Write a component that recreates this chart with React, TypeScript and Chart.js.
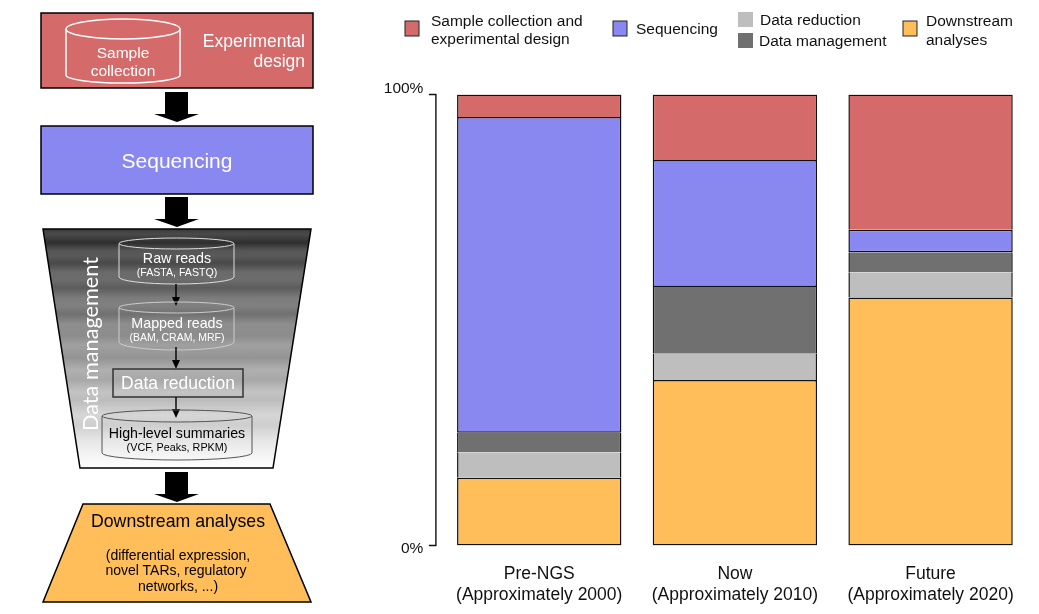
import React, { useEffect, useRef } from "react";
import { Chart, registerables } from "chart.js";

Chart.register(...registerables);

const categories = [
  ["Pre-NGS", "(Approximately 2000)"],
  ["Now", "(Approximately 2010)"],
  ["Future", "(Approximately 2020)"],
];
const downstream = [15, 36.7, 55];
const dataReduction = [5.7, 5.8, 5.6];
const dataManagement = [4.3, 14.8, 4.4];
const sequencing = [70, 28.2, 5];
const sampleCollection = [5, 14.5, 30];
const yTicks = ["0%", "100%"];

const RED = "#D46A6A";
const BLUE = "#8888F0";
const LIGHT = "#BEBEBE";
const DARK = "#707070";
const ORANGE = "#FFBE5A";
const FONT = '"Liberation Sans", Arial, sans-serif';

const axisPlugin = {
  id: "offsetAxis",
  afterDatasetsDraw(chart: any) {
    const { ctx, scales, chartArea } = chart;
    const x = chartArea.left - 5.5;
    const top = scales.y.getPixelForValue(100);
    const bottom = scales.y.getPixelForValue(0);
    ctx.save();
    ctx.strokeStyle = "#111";
    ctx.lineWidth = 1.4;
    ctx.beginPath();
    ctx.moveTo(x - 7, top);
    ctx.lineTo(x, top);
    ctx.lineTo(x, bottom);
    ctx.lineTo(x - 7, bottom);
    ctx.stroke();
    ctx.restore();
  },
};

const bandStops: [number, string][] = [
  [229, "#3a3a3a"], [234, "#4a4a4a"], [243, "#2e2e2e"], [250, "#555555"], [256, "#5a5a5a"], [263, "#484848"],
  [272, "#6a6a6a"], [280, "#6c6c6c"], [288, "#5c5c5c"], [298, "#7c7c7c"], [306, "#808080"], [314, "#707070"],
  [324, "#8e8e8e"], [336, "#8c8c8c"], [345, "#a0a0a0"], [358, "#949494"], [370, "#b0b0b0"], [380, "#a8a8a8"],
  [392, "#c4c4c4"], [400, "#bcbcbc"], [415, "#d6d6d6"], [425, "#cecece"], [440, "#e6e6e6"], [455, "#f4f4f4"],
  [468, "#ffffff"],
];

function Cylinder({ l, r, t, e, s, b, stroke, width = 1.5 }: any) {
  const cx = (l + r) / 2;
  const rx = (r - l) / 2;
  const ry = (e - t) / 2;
  const cy = t + ry;
  return (
    <g fill="none" stroke={stroke} strokeWidth={width}>
      <path d={`M${l} ${cy} L${l} ${s} A${rx} ${b - s} 0 0 0 ${r} ${s} L${r} ${cy}`} />
      <ellipse cx={cx} cy={cy} rx={rx} ry={ry} />
    </g>
  );
}

function Arrow({ y }: { y: number }) {
  return (
    <polygon
      fill="#000"
      points={`165,${y} 188,${y} 188,${y + 22} 199,${y + 22} 177,${y + 30} 154,${y + 22} 165,${y + 22}`}
    />
  );
}

function SmallArrow({ y1, y2 }: { y1: number; y2: number }) {
  return (
    <g>
      <line x1={176} y1={y1} x2={176} y2={y2 - 6} stroke="#000" strokeWidth={1.4} />
      <polygon fill="#000" points={`172,${y2 - 9} 180,${y2 - 9} 176,${y2}`} />
    </g>
  );
}

function T({ x, y, size, fill = "#fff", anchor = "middle", children, family = FONT }: any) {
  return (
    <text x={x} y={y} fontSize={size} fill={fill} textAnchor={anchor} fontFamily={family} dominantBaseline="central">
      {children}
    </text>
  );
}

function Diagram() {
  return (
    <svg width={1039} height={614} style={{ position: "absolute", left: 0, top: 0 }}>
      <defs>
        <linearGradient id="bands" x1="0" y1="0" x2="0" y2="1">
          {bandStops.map(([y, c]) => (
            <stop key={y} offset={(y - 229) / 239} stopColor={c} />
          ))}
        </linearGradient>
      </defs>

      <rect x={41} y={13} width={272} height={75} fill={RED} stroke="#000" strokeWidth={1.5} />
      <Cylinder l={66} r={180} t={19} e={39} s={75} b={83} stroke="#fff" />
      <T x={123} y={52} size={15.5}>Sample</T>
      <T x={123} y={70} size={15.5}>collection</T>
      <T x={305} y={41} size={17.5} anchor="end">Experimental</T>
      <T x={305} y={61} size={17.5} anchor="end">design</T>
      <Arrow y={92} />

      <rect x={41} y={126} width={272} height={68} fill={BLUE} stroke="#000" strokeWidth={1.5} />
      <T x={177} y={160} size={21}>Sequencing</T>
      <Arrow y={197} />

      <polygon points="43,229 311,229 273,468 80,468" fill="url(#bands)" stroke="#000" strokeWidth={1.5} />
      <Cylinder l={119} r={234} t={238} e={249} s={277} b={284} stroke="#ddd" width={1} />
      <T x={177} y={258} size={14.3}>Raw reads</T>
      <T x={177} y={272} size={10.6}>(FASTA, FASTQ)</T>
      <SmallArrow y1={284} y2={306} />
      <Cylinder l={119} r={234} t={302} e={313} s={342} b={350} stroke="#ccc" width={1} />
      <T x={177} y={323} size={14.3}>Mapped reads</T>
      <T x={177} y={337} size={10.5}>(BAM, CRAM, MRF)</T>
      <SmallArrow y1={347} y2={369} />
      <rect x={113} y={369} width={130} height={28} fill="none" stroke="#333" strokeWidth={1.5} />
      <T x={178} y={383} size={17.5}>Data reduction</T>
      <SmallArrow y1={397} y2={418} />
      <Cylinder l={102} r={252} t={410} e={422} s={453} b={460} stroke="#555" width={1} />
      <T x={177} y={433} size={14.2} fill="#000">High-level summaries</T>
      <T x={177} y={447} size={10.8} fill="#000">(VCF, Peaks, RPKM)</T>
      <text
        x={90}
        y={344}
        fontSize={21.7}
        fill="#fff"
        fontFamily="Lato, sans-serif"
        textAnchor="middle"
        dominantBaseline="central"
        transform="rotate(-90 90 344)"
      >
        Data management
      </text>
      <Arrow y={472} />

      <polygon points="83,504 270,504 311,602 43,602" fill={ORANGE} stroke="#000" strokeWidth={1.5} />
      <T x={178} y={521} size={17.7} fill="#000">Downstream analyses</T>
      <T x={178} y={555} size={14} fill="#000">(differential expression,</T>
      <T x={176} y={570} size={14} fill="#000">novel TARs, regulatory</T>
      <T x={178} y={586} size={14} fill="#000">networks, ...)</T>

      <rect x={405} y={21} width={14} height={15} fill={RED} stroke="#222" strokeWidth={1} />
      <T x={431} y={20} size={15.5} fill="#111" anchor="start">Sample collection and</T>
      <T x={431} y={38} size={15.5} fill="#111" anchor="start">experimental design</T>
      <rect x={613} y={21} width={14} height={15} fill={BLUE} stroke="#222" strokeWidth={1} />
      <T x={636} y={28} size={15.5} fill="#111" anchor="start">Sequencing</T>
      <rect x={738} y={12} width={15} height={15} fill={LIGHT} />
      <T x={760} y={19} size={15.5} fill="#111" anchor="start">Data reduction</T>
      <rect x={738} y={33} width={15} height={15} fill={DARK} />
      <T x={759} y={40} size={15.5} fill="#111" anchor="start">Data management</T>
      <rect x={903} y={21} width={14} height={15} fill={ORANGE} stroke="#222" strokeWidth={1} />
      <T x={926} y={20} size={15.5} fill="#111" anchor="start">Downstream</T>
      <T x={926} y={39} size={15.5} fill="#111" anchor="start">analyses</T>
    </svg>
  );
}

export default function App() {
  const ref = useRef<HTMLCanvasElement>(null);

  useEffect(() => {
    document.body.style.margin = "0";
    document.body.style.background = "#fff";
    const edge = (top: number, bottom: number) => ({ top, bottom, left: 1.5, right: 1.5 });
    const mk = (label: string, data: number[], color: string, top: number, bottom: number) => ({
      label,
      data,
      backgroundColor: color,
      borderColor: "#111",
      borderWidth: edge(top, bottom),
      borderSkipped: false,
      stack: "s",
    });
    const chart = new Chart(ref.current!, {
      type: "bar",
      data: {
        labels: categories as any,
        datasets: [
          mk("Downstream analyses", downstream, ORANGE, 1.5, 1.5),
          mk("Data reduction", dataReduction, LIGHT, 0, 0),
          mk("Data management", dataManagement, DARK, 0, 0),
          mk("Sequencing", sequencing, BLUE, 1.5, 1.5),
          mk("Sample collection and experimental design", sampleCollection, RED, 1.5, 0),
        ] as any,
      },
      plugins: [axisPlugin],
      options: {
        animation: false,
        responsive: false,
        devicePixelRatio: 1,
        layout: { padding: { left: 341.4, right: 10.6, top: 94.5, bottom: 8.5 } },
        plugins: { legend: { display: false }, tooltip: { enabled: false } },
        datasets: { bar: { categoryPercentage: 0.84, barPercentage: 1 } },
        scales: {
          x: {
            stacked: true,
            afterFit: (s: any) => { s.height = 60; },
            grid: { display: false, drawTicks: false },
            border: { display: false },
            ticks: {
              color: "#111",
              padding: 18,
              maxRotation: 0,
              font: { family: FONT, size: 17.5, lineHeight: "21px" },
            },
          },
          y: {
            stacked: true,
            min: 0,
            max: 100,
            afterFit: (s: any) => { s.width = 100; },
            grid: { display: false, drawTicks: false },
            border: { display: false },
            ticks: {
              stepSize: 100,
              autoSkip: false,
              color: "#111",
              padding: 18,
              callback: (v: any) => (v === 100 ? [yTicks[1], ""] : ["", yTicks[0]]),
              font: (c: any) => ({
                family: FONT,
                size: 15.5,
                lineHeight: c.tick && c.tick.value === 100 ? "12px" : "6px",
              }),
            },
          },
        },
      } as any,
    });
    return () => chart.destroy();
  }, []);

  return (
    <div style={{ position: "relative", width: 1039, height: 614 }}>
      <canvas ref={ref} width={1039} height={614} style={{ display: "block" }} />
      <Diagram />
    </div>
  );
}
